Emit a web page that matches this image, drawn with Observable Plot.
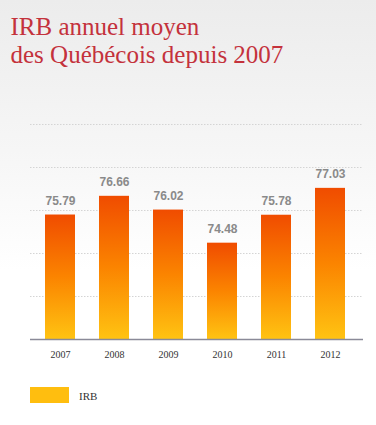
<!DOCTYPE html>
<html>
<head>
<meta charset="utf-8">
<script src="https://cdn.jsdelivr.net/npm/d3@7"></script>
<script src="https://cdn.jsdelivr.net/npm/@observablehq/plot@0.6"></script>
<style>
  html, body { margin: 0; padding: 0; }
  body {
    width: 376px; height: 425px; overflow: hidden;
    background: linear-gradient(#ececec 0px, #f6f6f6 150px, #ffffff 270px);
  }
  #title {
    box-sizing: border-box; height: 80px; padding: 13px 0 0 10.5px;
    font-family: "Liberation Serif", serif; font-size: 25px; line-height: 28px;
    color: #c4323c;
  }
  #legend {
    position: relative; height: 50px; margin-top: 12px;
    font-family: "Liberation Serif", serif; font-size: 11px; color: #333;
  }
  #legend .sw { position: absolute; left: 30px; top: 0px; width: 39px; height: 16px; background: #ffbe0f; }
  #legend .lb { position: absolute; left: 79px; top: 1px; line-height: 16px; }
</style>
</head>
<body>
<div id="title">IRB annuel moyen<br>des Québécois depuis 2007</div>
<div id="chart"></div>
<div id="legend"><span class="sw"></span><span class="lb">IRB</span></div>
<script>
const years = ["2007", "2008", "2009", "2010", "2011", "2012"];
const values = [75.79, 76.66, 76.02, 74.48, 75.78, 77.03];
const gridTicks = [72, 74, 76, 78, 80];
const yMin = 70, yMax = 80;
const seriesName = "IRB";

const data = years.map((year, i) => ({year, value: values[i]}));

const defs = () => {
  const d = d3.create("svg:defs");
  const g = d.append("linearGradient").attr("id", "barGrad")
    .attr("x1", 0).attr("y1", 0).attr("x2", 0).attr("y2", 1);
  g.append("stop").attr("offset", "0%").attr("stop-color", "#f04c00");
  g.append("stop").attr("offset", "50%").attr("stop-color", "#fb8400");
  g.append("stop").attr("offset", "100%").attr("stop-color", "#ffc312");
  return d.node();
};

const chart = Plot.plot({
  width: 376,
  height: 295,
  marginLeft: 30,
  marginRight: 13,
  marginTop: 44,
  marginBottom: 36,
  style: {background: "transparent", overflow: "visible"},
  x: {domain: years, range: [30, 360], paddingInner: 0.45, paddingOuter: 0.25, label: null, tickSize: 0, tickPadding: 11.5},
  y: {domain: [yMin, yMax], axis: null},
  marks: [
    defs,
    Plot.ruleY(gridTicks, {stroke: "#d4d4d4", strokeDasharray: "1.5,1.5", strokeWidth: 1}),
    Plot.barY(data, {x: "year", y1: () => yMin, y2: "value", fill: "url(#barGrad)"}),
    Plot.ruleY([yMin], {stroke: "#8a8a98", strokeWidth: 1.5}),
    Plot.text(data, {x: "year", y: "value", text: d => d.value.toFixed(2), dy: -10, lineAnchor: "bottom",
      fill: "#8a8a8a", fontWeight: "bold", fontSize: 12, fontFamily: "Liberation Sans, Arial, sans-serif"}),
    Plot.axisX({tickSize: 0, tickPadding: 11.5, fontFamily: "Liberation Serif, serif", fontSize: 10, color: "#333", label: null})
  ]
});
chart.setAttribute("aria-label", seriesName);
document.getElementById("chart").appendChild(chart);
</script>
</body>
</html>
